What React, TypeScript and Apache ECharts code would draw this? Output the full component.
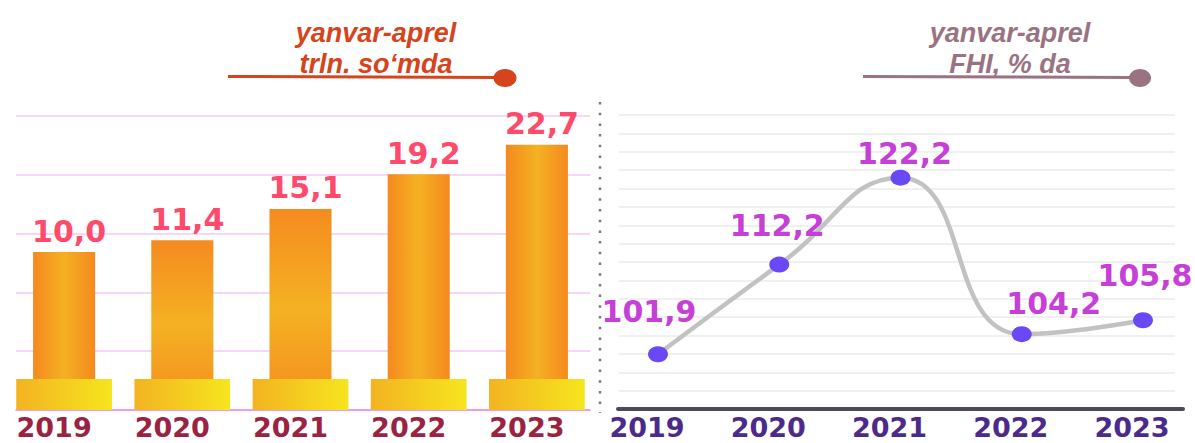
import React, { useEffect, useRef } from "react";
import * as echarts from "echarts";

// ---- data ----
const years = ["2019", "2020", "2021", "2022", "2023"];
const volumeValues = [10.0, 11.4, 15.1, 19.2, 22.7]; // trln. so'm, yanvar-aprel
const fhiValues = [101.9, 112.2, 122.2, 104.2, 105.8]; // FHI, % da
const leftTitleLines = ["yanvar-aprel", "trln. so‘mda"];
const rightTitleLines = ["yanvar-aprel", "FHI, % da"];

// ---- styles (not data) ----
const barVertical = [false, true, true, false, false];
const fhiLabelOffsets: [number, number][] = [
  [-9, -20],
  [-2, -16],
  [4, -1],
  [32, -8],
  [2, -22],
];
const VOL_MIN = -8.7;
const VOL_MAX = 26.1;
const FHI_MIN = 95.6;
const FHI_MAX = 129.4;

const fmt = (v: number) => v.toFixed(1).replace(".", ",");

export default function App() {
  const ref = useRef<HTMLDivElement>(null);
  useEffect(() => {
    if (!ref.current) return;
    const chart = echarts.init(ref.current, null, { renderer: "svg" });
    const numFont = '"DejaVu Sans", sans-serif';
    const hidden = {
      axisLine: { show: false },
      axisTick: { show: false },
      axisLabel: { show: false },
      splitLine: { show: false },
    };

    const option: any = {
      animation: false,
      backgroundColor: "#ffffff",
      grid: [
        { left: 16, width: 574, top: 116, height: 294 },
        { left: 5, width: 591, top: 116, height: 294 },
        { left: 619, width: 556, top: 115, height: 294 },
        { left: 658, width: 485, top: 115, height: 294 },
        { left: 618, width: 565, top: 115, height: 294 },
      ],
      xAxis: [
        {
          gridIndex: 0,
          type: "value",
          min: 0,
          max: 1,
          ...hidden,
          axisLine: { show: true, lineStyle: { color: "#e38af2", width: 1.5 } },
        },
        {
          gridIndex: 1,
          type: "category",
          data: years,
          boundaryGap: true,
          axisLine: { show: false },
          axisTick: { show: false },
          axisLabel: {
            color: "#9b2342",
            fontFamily: numFont,
            fontWeight: "bold",
            fontSize: 27,
            lineHeight: 27,
            margin: 4,
            padding: [0, 20, 0, 0],
          },
        },
        {
          gridIndex: 2,
          type: "value",
          min: 0,
          max: 1,
          ...hidden,
        },
        {
          gridIndex: 3,
          type: "category",
          data: years,
          boundaryGap: false,
          axisLine: { show: false },
          axisTick: { show: false },
          axisLabel: {
            color: "#4b2a8c",
            fontFamily: numFont,
            fontWeight: "bold",
            fontSize: 27,
            lineHeight: 27,
            margin: 5,
            padding: [0, 22, 0, 0],
          },
        },
        {
          gridIndex: 4,
          type: "value",
          min: 0,
          max: 1,
          ...hidden,
          axisLine: { show: true, lineStyle: { color: "#4a4a5a", width: 4, cap: "round" } },
        },
      ],
      yAxis: [
        {
          gridIndex: 0,
          type: "value",
          min: 0,
          max: 5,
          interval: 1,
          ...hidden,
          splitLine: { show: true, lineStyle: { color: "#f5d8f8", width: 2 } },
        },
        {
          gridIndex: 1,
          type: "value",
          min: VOL_MIN,
          max: VOL_MAX,
          show: false,
          splitLine: { show: false },
        },
        {
          gridIndex: 2,
          type: "value",
          min: 0,
          max: 16,
          interval: 1,
          ...hidden,
          splitLine: { show: true, lineStyle: { color: "#f0f0f0", width: 2 } },
        },
        {
          gridIndex: 3,
          type: "value",
          min: FHI_MIN,
          max: FHI_MAX,
          show: false,
          splitLine: { show: false },
        },
        {
          gridIndex: 4,
          type: "value",
          min: 0,
          max: 1,
          show: false,
          splitLine: { show: false },
        },
      ],
      series: [
        {
          type: "custom",
          xAxisIndex: 1,
          yAxisIndex: 1,
          encode: { x: 0, y: 1 },
          data: volumeValues.map((v, i) => [i, v]),
          renderItem: (params: any, api: any) => {
            const i = api.value(0);
            const v = api.value(1);
            const top = api.coord([i, v]);
            const base = api.coord([i, VOL_MIN]);
            const band = api.size([1, 0])[0];
            const bw = band * 0.525;
            const pw = band * 0.81;
            const cx = top[0];
            const vertical = barVertical[params.dataIndex];
            const barFill = vertical
              ? new echarts.graphic.LinearGradient(0, 0, 0, 1, [
                  { offset: 0, color: "#f58b20" },
                  { offset: 0.5, color: "#f4b122" },
                  { offset: 1, color: "#f58b20" },
                ])
              : new echarts.graphic.LinearGradient(0, 0, 1, 0, [
                  { offset: 0, color: "#f5891f" },
                  { offset: 0.5, color: "#f4b122" },
                  { offset: 1, color: "#f5891f" },
                ]);
            const pedFill = new echarts.graphic.LinearGradient(0, 0, 1, 0, [
              { offset: 0, color: "#f3b322" },
              { offset: 1, color: "#f6e51e" },
            ]);
            return {
              type: "group",
              children: [
                {
                  type: "rect",
                  shape: { x: cx - bw / 2, y: top[1], width: bw, height: base[1] - top[1] },
                  style: { fill: barFill },
                },
                {
                  type: "rect",
                  shape: { x: cx - pw / 2, y: base[1] - 31, width: pw, height: 31 },
                  style: { fill: pedFill },
                },
                {
                  type: "text",
                  x: cx + 5,
                  y: top[1] - 6,
                  style: {
                    text: fmt(v),
                    fill: "#ff4a6b",
                    font: 'bold 30px "DejaVu Sans", sans-serif',
                    align: "center",
                    verticalAlign: "bottom",
                  },
                },
              ],
            };
          },
        },
        {
          type: "line",
          xAxisIndex: 3,
          yAxisIndex: 3,
          smooth: 0.5,
          data: fhiValues.map((v, i) => ({
            value: v,
            label: { offset: fhiLabelOffsets[i] },
          })),
          lineStyle: { color: "#c2c2c2", width: 4.5 },
          symbol: "circle",
          symbolSize: [20, 16],
          itemStyle: { color: "#6b48f6" },
          label: {
            show: true,
            position: "top",
            distance: 0,
            color: "#c63fd6",
            fontFamily: numFont,
            fontWeight: "bold",
            fontSize: 30,
            formatter: (p: any) => fmt(p.value),
          },
        },
      ],
      graphic: [
        {
          type: "text",
          x: 376,
          y: 17,
          style: {
            text: leftTitleLines.join("\n"),
            fill: "#d5441b",
            font: 'italic bold 27px "Liberation Sans", Arial, sans-serif',
            align: "center",
            verticalAlign: "top",
            lineHeight: 31,
          },
        },
        {
          type: "line",
          shape: { x1: 228, y1: 76.5, x2: 500, y2: 77.5 },
          style: { stroke: "#d5441b", lineWidth: 3 },
        },
        {
          type: "ellipse",
          shape: { cx: 505, cy: 78, rx: 11.5, ry: 9 },
          style: { fill: "#d5441b" },
        },
        {
          type: "text",
          x: 1010,
          y: 17,
          style: {
            text: rightTitleLines.join("\n"),
            fill: "#9a7382",
            font: 'italic bold 27px "Liberation Sans", Arial, sans-serif',
            align: "center",
            verticalAlign: "top",
            lineHeight: 31,
          },
        },
        {
          type: "line",
          shape: { x1: 863, y1: 76.5, x2: 1135, y2: 77.5 },
          style: { stroke: "#9a7382", lineWidth: 3 },
        },
        {
          type: "ellipse",
          shape: { cx: 1140, cy: 78, rx: 11, ry: 9 },
          style: { fill: "#9a7382" },
        },
        {
          type: "line",
          shape: { x1: 600, y1: 102, x2: 600, y2: 413 },
          style: { stroke: "#7a7a7a", lineWidth: 2.5, lineDash: [2.5, 8.2] },
        },
      ],
    };
    chart.setOption(option);
    return () => chart.dispose();
  }, []);
  return (
    <div
      ref={ref}
      style={{ position: "fixed", left: 0, top: 0, width: 1195, height: 443, background: "#fff" }}
    />
  );
}
